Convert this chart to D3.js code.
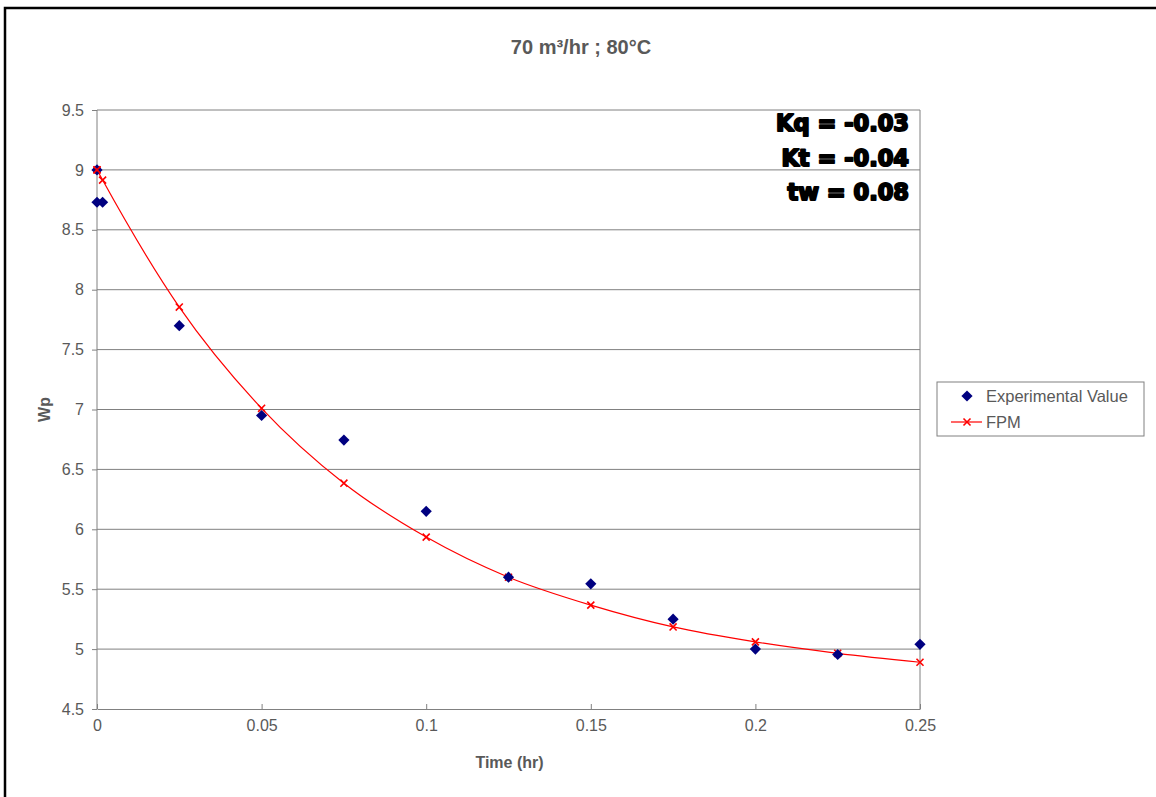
<!DOCTYPE html>
<html><head><meta charset="utf-8">
<script src="https://cdn.jsdelivr.net/npm/d3@7"></script>
<style>body{margin:0;background:#fff;} svg{display:block;font-family:"Liberation Sans",Arial,sans-serif;}</style>
</head><body>
<script>
const expTime = [0, 0, 0.0017, 0.025, 0.05, 0.075, 0.1, 0.125, 0.15, 0.175, 0.2, 0.225, 0.25];
const expWp   = [9.0, 8.73, 8.73, 7.70, 6.95, 6.745, 6.15, 5.60, 5.545, 5.25, 5.0, 4.955, 5.04];
const fpmTime = [0, 0.0017, 0.025, 0.05, 0.075, 0.1, 0.125, 0.15, 0.175, 0.2, 0.225, 0.25];
const fpmWp   = [9.0, 8.915, 7.855, 7.01, 6.385, 5.935, 5.60, 5.367, 5.185, 5.06, 4.965, 4.89];
const xTicks = [0, 0.05, 0.1, 0.15, 0.2, 0.25];
const yTicks = [4.5, 5, 5.5, 6, 6.5, 7, 7.5, 8, 8.5, 9, 9.5];
const annotations = ["Kq = -0.03", "Kt = -0.04", "tw = 0.08"];
const title = "70 m³/hr ; 80°C";
const xTitle = "Time (hr)", yTitle = "Wp";
const seriesNames = ["Experimental Value", "FPM"];

const W = 1156, H = 797;
const svg = d3.select("body").append("svg").attr("width", W).attr("height", H);
svg.append("rect").attr("x", 5).attr("y", 8).attr("width", W + 10).attr("height", H + 10)
  .attr("fill", "#fff").attr("stroke", "#000").attr("stroke-width", 2.5);

const L = 97, R = 920, T = 110, B = 709;
const x = d3.scaleLinear().domain([0, 0.25]).range([L, R]);
const y = d3.scaleLinear().domain([4.5, 9.5]).range([B, T]);
const grey = "#808080", txt = "#595959";

// gridlines
svg.append("g").selectAll("line").data(yTicks.filter(d => d > 4.5)).join("line")
  .attr("x1", L).attr("x2", R).attr("y1", d => y(d)).attr("y2", d => y(d))
  .attr("stroke", grey).attr("stroke-width", 1);
svg.append("line").attr("x1", R).attr("x2", R).attr("y1", T).attr("y2", B).attr("stroke", grey);

// axes
const yAxis = svg.append("g").attr("transform", `translate(${L},0)`)
  .call(d3.axisLeft(y).tickValues(yTicks).tickFormat(d3.format("")).tickSize(5).tickPadding(8));
const xAxis = svg.append("g").attr("transform", `translate(0,${B})`)
  .call(d3.axisBottom(x).tickValues(xTicks).tickFormat(d => d === 0 ? "0" : String(d)).tickSizeInner(-5).tickSizeOuter(0).tickPadding(11));
[yAxis, xAxis].forEach(a => {
  a.select(".domain").attr("stroke", grey);
  a.selectAll(".tick line").attr("stroke", grey);
  a.selectAll(".tick text").attr("fill", txt).attr("font-size", 16).attr("font-family", "Liberation Sans, Arial, sans-serif");
});
yAxis.select(".domain").attr("d", `M0,${T}V${B}`);

// titles
svg.append("text").attr("x", 581).attr("y", 54).attr("text-anchor", "middle")
  .attr("font-size", 20).attr("font-weight", "bold").attr("fill", txt).text(title);
svg.append("text").attr("x", (L + R) / 2 + 1).attr("y", 768).attr("text-anchor", "middle")
  .attr("font-size", 16).attr("font-weight", "bold").attr("fill", txt).text(xTitle);
svg.append("text").attr("transform", `translate(50,${(T + B) / 2}) rotate(-90)`).attr("text-anchor", "middle")
  .attr("font-size", 16).attr("font-weight", "bold").attr("fill", txt).text(yTitle);

// FPM line
const fpm = fpmTime.map((t, i) => ({t, v: fpmWp[i]}));
svg.append("path").datum(fpm)
  .attr("d", d3.line().x(d => x(d.t)).y(d => y(d.v)).curve(d3.curveMonotoneX))
  .attr("fill", "none").attr("stroke", "#ff0000").attr("stroke-width", 1.2);
const cross = d3.symbol().type(d3.symbolX).size(34);
svg.append("g").selectAll("path").data(fpm).join("path")
  .attr("transform", d => `translate(${x(d.t)},${y(d.v)})`).attr("d", cross)
  .attr("stroke", "#ff0000").attr("stroke-width", 1.6).attr("fill", "none");

// experimental
const exp = expTime.map((t, i) => ({t, v: expWp[i]}));
const diamond = d3.symbol().type(d3.symbolDiamond2).size(80);
svg.append("g").selectAll("path").data(exp).join("path")
  .attr("transform", d => `translate(${x(d.t)},${y(d.v)})`).attr("d", diamond)
  .attr("fill", "#000080");
svg.append("g").selectAll("path").data(fpm.slice(0, 1)).join("path")
  .attr("transform", d => `translate(${x(d.t)},${y(d.v)})`).attr("d", cross)
  .attr("stroke", "#ff0000").attr("stroke-width", 1.6).attr("fill", "none");

// annotations
svg.append("g").selectAll("text").data(annotations).join("text")
  .attr("x", 909).attr("y", (d, i) => 131 + i * 34.5).attr("text-anchor", "end")
  .attr("font-size", 22.5).attr("font-weight", "bold").attr("fill", "#000")
  .attr("stroke", "#000").attr("stroke-width", 2).attr("stroke-linejoin", "round")
  .attr("font-family", "DejaVu Sans, sans-serif").text(d => d);

// legend
const lg = svg.append("g");
lg.append("rect").attr("x", 937).attr("y", 382).attr("width", 207).attr("height", 54)
  .attr("fill", "#fff").attr("stroke", grey);
lg.append("path").attr("transform", "translate(967,396)").attr("d", diamond).attr("fill", "#000080");
lg.append("line").attr("x1", 951).attr("x2", 982).attr("y1", 422).attr("y2", 422).attr("stroke", "#ff0000").attr("stroke-width", 1.2);
lg.append("path").attr("transform", "translate(967,422)").attr("d", cross).attr("stroke", "#ff0000").attr("stroke-width", 1.6);
lg.selectAll("text").data(seriesNames).join("text")
  .attr("x", 986).attr("y", (d, i) => 402 + i * 26).attr("font-size", 16.5).attr("fill", txt).text(d => d);
</script>
</body></html>
